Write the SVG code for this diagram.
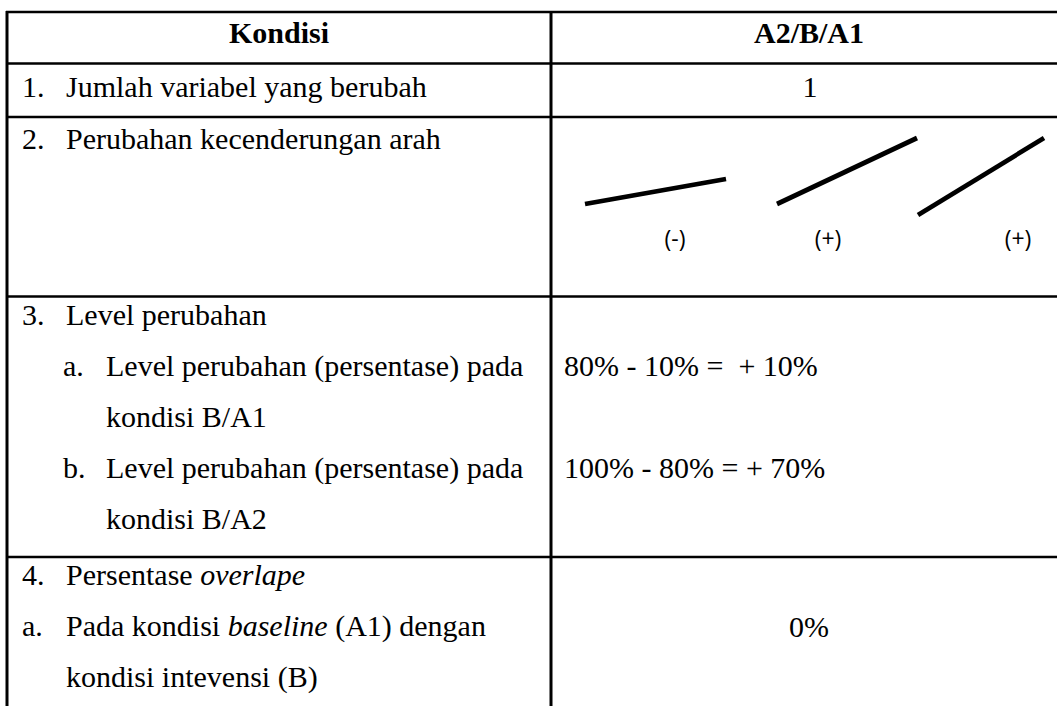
<svg xmlns="http://www.w3.org/2000/svg" width="1057" height="706" viewBox="0 0 1057 706">
<style>
.t{font-family:"Liberation Serif","Times New Roman",serif;font-size:30px;fill:#000}
.b{font-weight:bold}
.i{font-style:italic}
.s{font-family:"Open Sans","Noto Sans",sans-serif;font-size:23px;fill:#000}
.h{stroke:#000;stroke-width:2.5;fill:none}
.v{stroke:#000;stroke-width:3;fill:none}
.tr{stroke:#000;stroke-width:4.7;stroke-linecap:butt}
</style>
<rect width="1057" height="706" fill="#fff"/>
<g id="grid">
<line class="h" x1="6" y1="12" x2="1057" y2="12"/>
<line class="h" x1="6" y1="63.5" x2="1057" y2="63.5"/>
<line class="h" x1="6" y1="117" x2="1057" y2="117"/>
<line class="h" x1="6" y1="296.5" x2="1057" y2="296.5"/>
<line class="h" x1="6" y1="557" x2="1057" y2="557"/>
<line class="v" x1="7" y1="11" x2="7" y2="706"/>
<line class="v" x1="551" y1="11" x2="551" y2="706"/>
</g>
<g id="header">
<text class="t b" x="279" y="43" text-anchor="middle">Kondisi</text>
<text class="t b" x="809" y="43" text-anchor="middle">A2/B/A1</text>
</g>
<g id="row1">
<text class="t" x="22" y="97">1.</text>
<text class="t" x="66" y="97">Jumlah variabel yang berubah</text>
<text class="t" x="810" y="97" text-anchor="middle">1</text>
</g>
<g id="row2">
<text class="t" x="22" y="149">2.</text>
<text class="t" x="66" y="149">Perubahan kecenderungan arah</text>
<line class="tr" x1="585" y1="204" x2="726" y2="179"/>
<line class="tr" x1="777" y1="204" x2="917" y2="138"/>
<line class="tr" x1="918" y1="215" x2="1044" y2="138"/>
<text class="s" x="675" y="247" text-anchor="middle">(-)</text>
<text class="s" x="828" y="247" text-anchor="middle">(+)</text>
<text class="s" x="1018" y="247" text-anchor="middle">(+)</text>
</g>
<g id="row3">
<text class="t" x="22" y="325">3.</text>
<text class="t" x="66" y="325">Level perubahan</text>
<text class="t" x="63" y="376">a.</text>
<text class="t" x="106" y="376">Level perubahan (persentase) pada</text>
<text class="t" x="106" y="427">kondisi B/A1</text>
<text class="t" x="63" y="478">b.</text>
<text class="t" x="106" y="478">Level perubahan (persentase) pada</text>
<text class="t" x="106" y="529">kondisi B/A2</text>
<text class="t" x="564" y="376" xml:space="preserve">80% - 10% =  + 10%</text>
<text class="t" x="564" y="478">100% - 80% = + 70%</text>
</g>
<g id="row4">
<text class="t" x="22" y="585">4.</text>
<text class="t" x="66" y="585">Persentase <tspan class="i">overlape</tspan></text>
<text class="t" x="22" y="636">a.</text>
<text class="t" x="66" y="636">Pada kondisi <tspan class="i">baseline</tspan> (A1) dengan</text>
<text class="t" x="66" y="687">kondisi intevensi (B)</text>
<text class="t" x="809" y="637" text-anchor="middle">0%</text>
</g>
</svg>
